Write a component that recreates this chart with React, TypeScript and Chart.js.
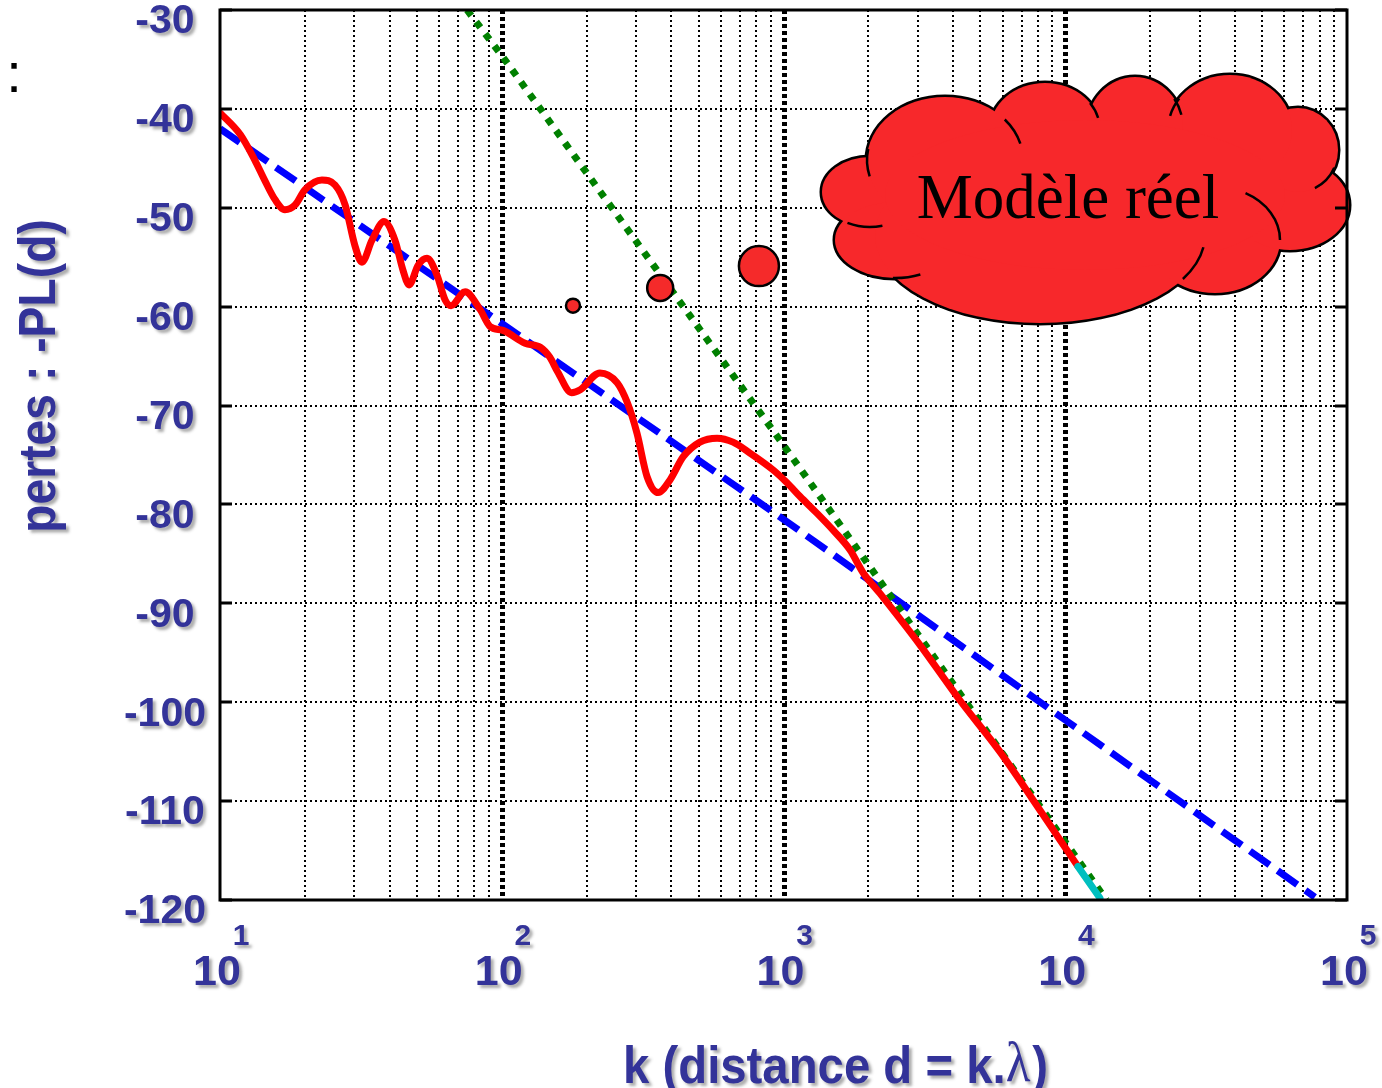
import React, { useEffect, useRef } from 'react';
import { Chart, registerables } from 'chart.js';

Chart.register(...registerables);

// ---------- data ----------
// red curve: "modèle réel"
const redK = [10, 11.8, 13.3, 14.4, 15.7, 17.0, 18.5, 20.0, 23.0, 25.6, 27.8, 30.1, 31.9, 34.6, 38.2, 41.8, 44.6, 46.9, 50.5, 54.3, 58.9, 62.9, 66.1, 74.1, 83.8, 90.8, 101, 121, 137, 148, 158, 177, 190, 223, 257, 279, 302, 328, 359, 396, 440, 505, 581, 662, 760, 918, 1029, 1145, 1316, 1500, 1723, 1916, 2199, 3048, 4226, 5859, 8124, 9570, 11090];
const redDb = [-40.4, -42.6, -45.2, -47.2, -49.2, -50.2, -49.7, -48.2, -47.2, -47.7, -49.7, -53.8, -55.5, -53.3, -51.4, -53.3, -56.3, -57.8, -55.8, -55.1, -56.8, -59.3, -59.9, -58.5, -60.3, -62.0, -62.4, -63.7, -64.1, -65.1, -66.6, -68.7, -68.4, -66.7, -67.7, -69.7, -72.8, -77.2, -78.8, -77.5, -75.2, -73.7, -73.3, -73.7, -74.8, -76.5, -77.8, -79.2, -80.9, -82.6, -84.6, -86.9, -89.0, -94.2, -99.8, -105.0, -110.9, -113.9, -116.6];
// cyan tail of the red curve
const cyanK = [11090, 13280];
const cyanDb = [-116.6, -119.8];
// blue dashed (free space)
const blueK = [10, 100, 1000, 10000, 76900];
const blueDb = [-42.0, -61.7, -81.5, -101.8, -119.7];
// green dotted
const greenK = [75.3, 100, 1000, 14000];
const greenDb = [-30.0, -34.6, -74.0, -120.0];
// red circles
const markerK = [179, 365, 818];
const markerDb = [-59.9, -58.1, -55.9];
const markerR = [7, 13, 20];

// axes
const yTickValues = [-30, -40, -50, -60, -70, -80, -90, -100, -110, -120];
const xDecades = [10, 100, 1000, 10000, 100000];
const xDecadeExp = ['1', '2', '3', '4', '5'];
const xMantissas = [1, 2, 3, 4, 5, 6, 7, 8, 9];
const decadeLines = [100, 1000, 10000];

const xTitleMain = 'k (distance d = k.';
const xTitleLambda = 'λ';
const xTitleEnd = ')';
const yTitle = 'pertes : -PL(d)';
const cloudText = 'Modèle réel';

const SANS = "'Liberation Sans', Arial, sans-serif";
const SERIF = "'Liberation Serif', 'Times New Roman', serif";
const BLUE_TXT = '#333399';

const xGridValues: number[] = [];
for (let d = 0; d < xDecades.length - 1; d++) {
  for (const m of xMantissas) xGridValues.push(xDecades[d] * m);
}
xGridValues.push(xDecades[xDecades.length - 1]);

const pts = (ks: number[], ds: number[]) => ks.map((k, i) => ({ x: k, y: ds[i] }));

// cloud lobes relative to chart area (cx, cy, rx, ry)
const lobes = [
  [650, 182, 48, 35], // 0 left
  [675, 230, 60, 38], // 1 bottom-left
  [820, 225, 165, 88], // 2 bottom-mid
  [995, 230, 65, 53], // 3 bottom-right
  [1070, 195, 59, 45], // 4 right
  [1078, 140, 40, 42], // 5 upper-right
  [1010, 120, 62, 55], // 6 top-right
  [915, 118, 48, 51], // 7 top-mid
  [825, 120, 55, 47], // 8 top-left-mid
  [725, 150, 78, 63], // 9 top-left
];
const cloudFill = [865, 185, 200, 75];
const curls = [
  [0, 75, 118],
  [1, 65, 92],
  [2, 8, 30],
  [3, -62, 0],
  [5, 25, 65],
  [6, 195, 215],
  [7, -35, -15],
  [8, -35, -15],
  [9, -40, -15],
  [9, 165, 190],
];

const shadowOn = (ctx: CanvasRenderingContext2D) => {
  ctx.shadowColor = 'rgba(70,70,70,0.45)';
  ctx.shadowOffsetX = 3;
  ctx.shadowOffsetY = 3;
  ctx.shadowBlur = 3;
};

const decorPlugin = {
  id: 'decor',
  beforeDatasetsDraw(chart: any) {
    const { ctx, chartArea: a, scales } = chart;
    const x = scales.x;
    ctx.save();
    ctx.strokeStyle = '#000';
    ctx.lineWidth = 5;
    ctx.setLineDash([4, 3]);
    for (const v of decadeLines) {
      const px = Math.round(x.getPixelForValue(v)) + 0.5;
      ctx.beginPath();
      ctx.moveTo(px, a.top);
      ctx.lineTo(px, a.bottom);
      ctx.stroke();
    }
    ctx.restore();
  },
  afterDatasetsDraw(chart: any) {
    const { ctx, chartArea: a, scales } = chart;
    const y = scales.y;
    // cloud
    ctx.save();
    ctx.translate(a.left, a.top);
    ctx.strokeStyle = '#000';
    ctx.lineWidth = 5;
    for (const l of lobes) {
      ctx.beginPath();
      ctx.ellipse(l[0], l[1], l[2], l[3], 0, 0, Math.PI * 2);
      ctx.stroke();
    }
    ctx.fillStyle = '#f7282b';
    for (const l of lobes) {
      ctx.beginPath();
      ctx.ellipse(l[0], l[1], l[2], l[3], 0, 0, Math.PI * 2);
      ctx.fill();
    }
    ctx.beginPath();
    ctx.ellipse(cloudFill[0], cloudFill[1], cloudFill[2], cloudFill[3], 0, 0, Math.PI * 2);
    ctx.fill();
    ctx.lineWidth = 2.5;
    for (const c of curls) {
      const l = lobes[c[0]];
      ctx.beginPath();
      ctx.ellipse(l[0], l[1], l[2], l[3], 0, (c[1] * Math.PI) / 180, (c[2] * Math.PI) / 180);
      ctx.stroke();
    }
    ctx.fillStyle = '#000';
    ctx.font = `63px ${SERIF}`;
    ctx.textAlign = 'center';
    ctx.textBaseline = 'alphabetic';
    ctx.fillText(cloudText, 848, 208);
    ctx.restore();

    // frame + inner ticks
    ctx.save();
    ctx.strokeStyle = '#000';
    ctx.lineWidth = 3;
    ctx.strokeRect(a.left, a.top, a.right - a.left, a.bottom - a.top);
    for (const v of yTickValues) {
      const py = Math.round(y.getPixelForValue(v));
      ctx.beginPath();
      ctx.moveTo(a.left, py);
      ctx.lineTo(a.left + 12, py);
      ctx.moveTo(a.right - 12, py);
      ctx.lineTo(a.right, py);
      ctx.stroke();
    }
    ctx.restore();
  },
  afterDraw(chart: any) {
    const { ctx, chartArea: a, scales } = chart;
    const x = scales.x;
    const y = scales.y;
    ctx.save();
    ctx.fillStyle = BLUE_TXT;
    shadowOn(ctx);
    // y tick labels
    ctx.font = `bold 41px ${SANS}`;
    ctx.textAlign = 'center';
    ctx.textBaseline = 'middle';
    for (const v of yTickValues) {
      ctx.fillText(String(v), a.left - 55, y.getPixelForValue(v) + 12);
    }
    // x decade labels 10^n
    ctx.textBaseline = 'alphabetic';
    xDecades.forEach((d, i) => {
      const px = x.getPixelForValue(d);
      ctx.font = `bold 43px ${SANS}`;
      ctx.textAlign = 'center';
      ctx.fillText('10', px - 3, a.bottom + 85);
      ctx.font = `bold 30px ${SANS}`;
      ctx.fillText(xDecadeExp[i], px + 21, a.bottom + 45);
    });
    // x title
    ctx.save();
    ctx.translate(623, a.bottom + 183);
    ctx.scale(0.91, 1);
    ctx.textAlign = 'left';
    ctx.font = `bold 52px ${SANS}`;
    let cx = 0;
    ctx.fillText(xTitleMain, cx, 0);
    cx += ctx.measureText(xTitleMain).width;
    ctx.font = `56px ${SERIF}`;
    ctx.fillText(xTitleLambda, cx, -2);
    cx += ctx.measureText(xTitleLambda).width + 2;
    ctx.font = `bold 52px ${SANS}`;
    ctx.fillText(xTitleEnd, cx, 0);
    ctx.restore();
    // y title
    ctx.save();
    ctx.translate(a.left - 165, a.top + 366);
    ctx.rotate(-Math.PI / 2);
    ctx.scale(0.89, 1);
    ctx.textAlign = 'center';
    ctx.font = `bold 52px ${SANS}`;
    ctx.fillText(yTitle, 0, 0);
    ctx.restore();
    ctx.restore();

    // stray colon top-left
    ctx.save();
    ctx.fillStyle = '#000';
    ctx.font = `56px ${SANS}`;
    ctx.textAlign = 'center';
    ctx.textBaseline = 'alphabetic';
    ctx.fillText(':', 14, 92);
    ctx.restore();
  },
};

export default function App() {
  const ref = useRef<HTMLCanvasElement>(null);
  useEffect(() => {
    document.body.style.margin = '0';
    document.body.style.overflow = 'hidden';
    const chart = new Chart(ref.current as HTMLCanvasElement, {
      type: 'scatter',
      data: {
        datasets: [
          {
            label: 'obstacles',
            data: pts(markerK, markerDb),
            pointRadius: markerR,
            pointHoverRadius: markerR,
            backgroundColor: '#f52a2a',
            borderColor: '#000',
            borderWidth: 2.5,
            showLine: false,
          } as any,
          {
            label: 'fin',
            data: pts(cyanK, cyanDb),
            showLine: true,
            borderColor: '#00bfbf',
            borderWidth: 7,
            pointRadius: 0,
            borderCapStyle: 'round',
          },
          {
            label: 'réel',
            data: pts(redK, redDb),
            showLine: true,
            borderColor: '#ff0000',
            borderWidth: 7,
            pointRadius: 0,
            cubicInterpolationMode: 'monotone',
            borderCapStyle: 'round',
            borderJoinStyle: 'round',
          },
          {
            label: '-40 dB/dec',
            data: pts(greenK, greenDb),
            showLine: true,
            borderColor: '#008000',
            borderWidth: 7,
            borderDash: [7, 8],
            pointRadius: 0,
          },
          {
            label: 'espace libre',
            data: pts(blueK, blueDb),
            showLine: true,
            borderColor: '#0000ff',
            borderWidth: 7,
            borderDash: [24, 10],
            pointRadius: 0,
          },
        ],
      },
      options: {
        responsive: false,
        animation: false,
        events: [],
        layout: { autoPadding: false, padding: { left: 220, right: 35, top: 10, bottom: 188 } },
        plugins: { legend: { display: false }, tooltip: { enabled: false } },
        scales: {
          x: {
            type: 'logarithmic',
            min: 10,
            max: 100000,
            afterBuildTicks: (s: any) => {
              s.ticks = xGridValues.map((v) => ({ value: v }));
            },
            ticks: { display: false, autoSkip: false },
            grid: {
              color: (c: any) => (decadeLines.includes(c.tick?.value) ? 'rgba(0,0,0,0)' : '#000'),
              lineWidth: 2,
              drawTicks: false,
            },
            border: { display: false, dash: [2, 3] },
          },
          y: {
            type: 'linear',
            min: -120,
            max: -30,
            ticks: { display: false, stepSize: 10 },
            grid: { color: '#000', lineWidth: 2, drawTicks: false },
            border: { display: false, dash: [2, 3] },
          },
        },
      } as any,
      plugins: [decorPlugin],
    });
    return () => chart.destroy();
  }, []);
  return <canvas ref={ref} width={1382} height={1088} style={{ display: 'block' }} />;
}
